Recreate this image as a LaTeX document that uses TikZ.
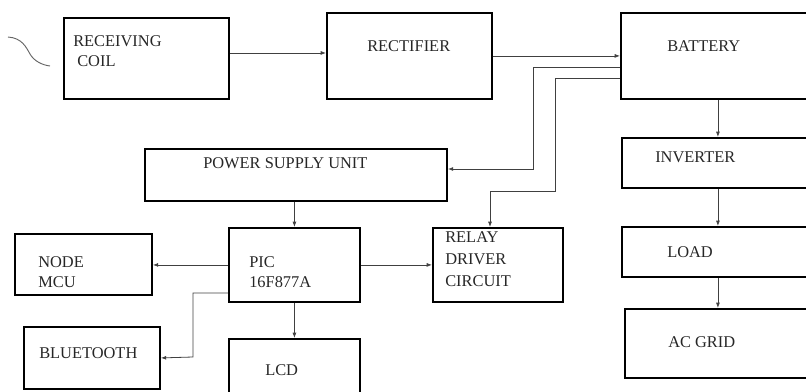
\documentclass[tikz,border=0pt]{standalone}
\usepackage{fontspec}
\setmainfont{Liberation Serif}
\usetikzlibrary{arrows.meta,positioning}

\begin{document}
\begin{tikzpicture}[
    x=0.75pt, y=-0.75pt,
    blk/.style 2 args = {draw, line width=1.4pt, anchor=north west, inner sep=0pt,
                         minimum width=#1*0.75pt, minimum height=#2*0.75pt},
    lbl/.style = {anchor=base west, inner sep=0pt, align=left,
                  font=\fontsize{12.3}{15}\selectfont, text=black!85},
    wire/.style = {draw=black!75, line width=0.6pt},
    >={Latex[length=4pt,width=3pt]}
]
\useasboundingbox (0,0) rectangle (806,392);

% Blocks
\node[blk={165}{81}]  (coil)  at (63,17)   {};
\node[blk={165}{86}]  (rect)  at (326,12)  {};
\node[blk={194}{86}]  (batt)  at (620,12)  {};
\node[blk={302}{52}]  (psu)   at (144,148) {};
\node[blk={192}{50}]  (inv)   at (621,137) {};
\node[blk={192}{50}]  (load)  at (621,226) {};
\node[blk={186}{69}]  (grid)  at (624,308) {};
\node[blk={137}{61}]  (mcu)   at (14,233)  {};
\node[blk={131}{74}]  (pic)   at (228,227) {};
\node[blk={130}{74}]  (relay) at (432,227) {};
\node[blk={136}{62}]  (bt)    at (23,326)  {};
\node[blk={131}{82}]  (lcd)   at (228,338) {};

% Labels (multi-line ones sit on their last line)
\node[lbl] (coil-t)  at (73,67)   {RECEIVING\\\hspace*{3pt}COIL};
\node[lbl] (rect-t)  at (367,52)  {RECTIFIER};
\node[lbl] (batt-t)  at (667,52)  {BATTERY};
\node[lbl] (psu-t)   at (203,169) {POWER SUPPLY UNIT};
\node[lbl] (inv-t)   at (655,162) {INVERTER};
\node[lbl] (load-t)  at (667,257) {LOAD};
\node[lbl] (grid-t)  at (668,347) {AC GRID};
\node[lbl] (mcu-t)   at (38,287)  {NODE\\MCU};
\node[lbl] (pic-t)   at (249,287) {PIC\\16F877A};
\node[lbl, font=\fontsize{12.3}{16.2}\selectfont] (relay-t) at (445,286) {RELAY\\DRIVER\\CIRCUIT};
\node[lbl] (bt-t)    at (39,358)  {BLUETOOTH};
\node[lbl] (lcd-t)   at (265,375) {LCD};

% Bends
\coordinate (k1) at (533,169);
\coordinate (k2) at (555,191);
\coordinate (k3) at (490,191);
\coordinate (k4) at (193,357);

% Coil
\draw[wire, black!60, line width=0.7pt] (8,37) .. controls (22,38) and (26,47) .. (30,54)
    .. controls (34,61) and (42,65) .. (50,66);

% Connectors
\draw[wire, ->] ([yshift=4.1pt]coil.east) -- ([yshift=4.1pt]coil.east -| rect.west);
\draw[wire, ->] (rect.east) -- (rect.east -| batt.west);
\draw[wire, ->] ([yshift=-8.25pt]batt.west) -| (k1) -- (k1 -| psu.east);
\draw[wire, ->] ([yshift=-16.5pt]batt.west) -| (k2) -- (k3) -- (k3 |- relay.north);
\draw[wire, ->] (pic.north |- psu.south) -- (pic.north);
\draw[wire, ->] (pic.west) -- (pic.west -| mcu.east);
\draw[wire, ->] (pic.east) -- (relay.west);
\draw[wire, ->] ([yshift=-21pt]pic.west) -| (k4) -- (bt.east);
\draw[wire, ->] (pic.south) -- (pic.south |- lcd.north);
\draw[wire, ->] (batt.south) -- (batt.south |- inv.north);
\draw[wire, ->] (inv.south) -- (inv.south |- load.north);
\draw[wire, ->] (load.south) -- (load.south |- grid.north);

\end{tikzpicture}
\end{document}
